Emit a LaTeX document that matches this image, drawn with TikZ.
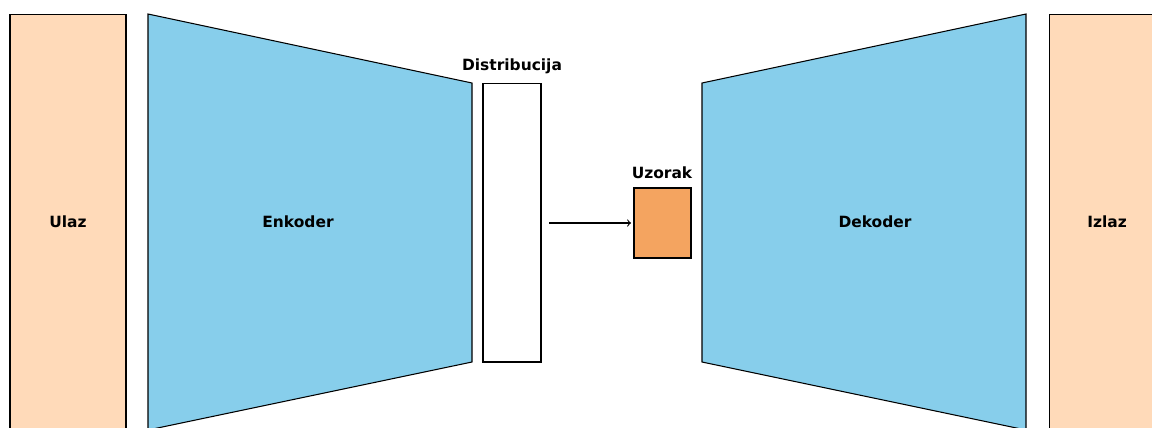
\documentclass[tikz,border=0pt]{standalone}
\usepackage{fontspec}
\setmainfont{DejaVu Sans}
\usepackage{tikz}
\usetikzlibrary{calc}
\definecolor{peach}{RGB}{255,218,185}
\definecolor{sky}{RGB}{135,206,235}
\definecolor{sandy}{RGB}{244,164,96}
\def\thickness{0.6pt}
\tikzset{box/.style={draw=black, line width=\thickness, inner sep=0pt, outer sep=0pt,
    font=\fontsize{8.8}{10}\selectfont\bfseries}}
\tikzset{lbl/.style={inner sep=0pt, font=\fontsize{8.8}{10}\selectfont\bfseries}}
\tikzset{trap/.style={draw=black, line width=\thickness, fill=sky}}

\begin{document}
\begin{tikzpicture}[x=0.02cm, y=-0.02cm]

\useasboundingbox (0, 0) rectangle (1152, 427);
\clip (0, 0) rectangle (1152, 427);

% encoder side
\node[box, fill=peach, minimum width=2.32cm, minimum height=8.32cm] (ulaz) at (68, 222) {Ulaz};

\coordinate (e0) at (148, 14);
\coordinate (e1) at (472, 83);
\coordinate (e2) at (472, 362);
\coordinate (e3) at (148, 430);
\draw [trap] (e0) -- (e1) -- (e2) -- (e3) -- cycle;
\node[lbl] (enk) at (298, 222) {Enkoder};

\node[box, fill=white, minimum width=1.16cm, minimum height=5.58cm] (dist) at (512, 222.5) {};
\node[lbl] (distlbl) at (512, 66) {Distribucija};

% sampling
\node[box, fill=sandy, minimum width=1.14cm, minimum height=1.4cm] (uzorak) at (662.5, 223) {};
\node[lbl] (uzlbl) at (662, 173) {Uzorak};

\draw [line width=\thickness, ->, shorten <=8*0.02cm, shorten >=3*0.02cm] (dist.east |- uzorak.west) -- (uzorak.west);

% decoder side
\coordinate (d0) at (702, 83);
\coordinate (d1) at (1026, 14);
\coordinate (d2) at (1026, 430);
\coordinate (d3) at (702, 362);
\draw [trap] (d0) -- (d1) -- (d2) -- (d3) -- cycle;
\node[lbl] (dek) at (875, 222) {Dekoder};

\node[box, fill=peach, minimum width=2.32cm, minimum height=8.32cm] (izlaz) at (1107, 222) {Izlaz};

\end{tikzpicture}
\end{document}
